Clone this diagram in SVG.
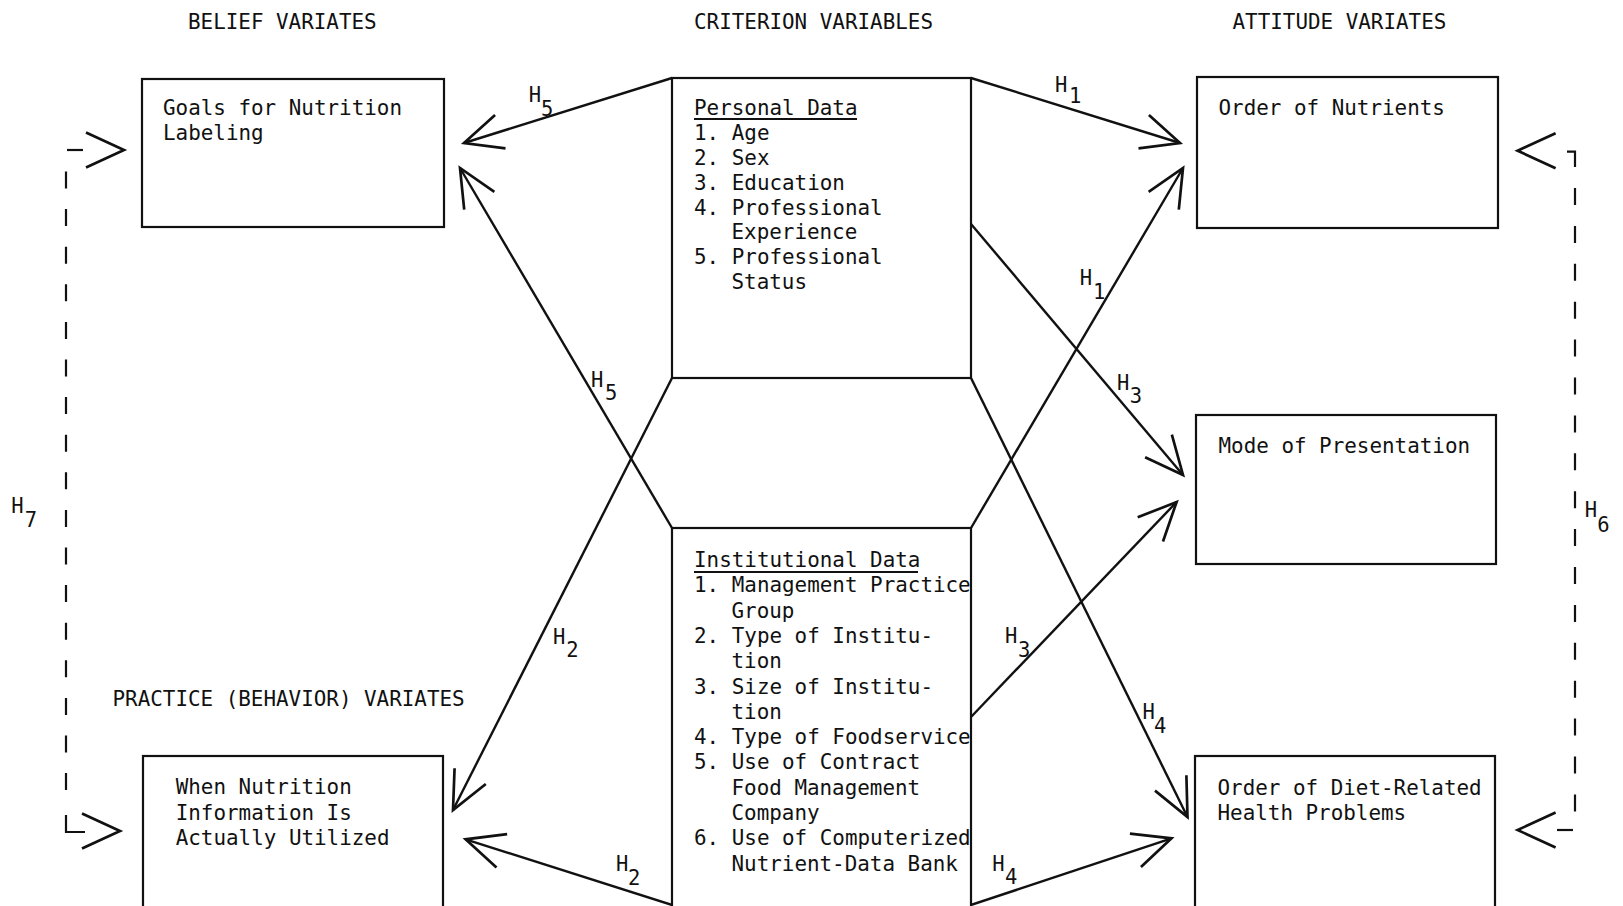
<svg xmlns="http://www.w3.org/2000/svg" width="1623" height="906" viewBox="0 0 1623 906">
  <defs>
    <style>
      .t { font-family: "DejaVu Sans Mono", "Liberation Mono", monospace; font-size: 20.9px; fill: #111; }
      .h { font-family: "DejaVu Sans Mono", "Liberation Mono", monospace; font-size: 20.5px; fill: #111; }
      .box { fill: none; stroke: #111; stroke-width: 2.2; }
      .ul { stroke: #111; stroke-width: 1.8; }
      .ln { fill: none; stroke: #111; stroke-width: 2.4; marker-end: url(#arrow); }
      .tip { fill: none; stroke: #111; stroke-width: 2; marker-end: url(#arrow); }
      .dash { fill: none; stroke: #111; stroke-width: 2.2; }
    </style>
    <marker id="arrow" markerUnits="userSpaceOnUse" markerWidth="50" markerHeight="44" refX="0" refY="0" orient="auto" overflow="visible">
      <path d="M -38,-17.5 L 0,0 L -38,17.5" fill="none" stroke="#111" stroke-width="2.7"/>
    </marker>
  </defs>
  <rect width="1623" height="906" fill="#ffffff"/>

  <g id="headers">
    <text class="t" x="188" y="28.5">BELIEF VARIATES</text>
    <text class="t" x="694" y="28.5">CRITERION VARIABLES</text>
    <text class="t" x="1232.5" y="28.5">ATTITUDE VARIATES</text>
    <text class="t" x="112.5" y="706">PRACTICE (BEHAVIOR) VARIATES</text>
  </g>

  <g id="goals">
    <rect class="box" x="142" y="79" width="302" height="148"/>
    <text class="t" x="163" y="115">Goals for Nutrition</text>
    <text class="t" x="163" y="139.8">Labeling</text>
  </g>

  <g id="personal">
    <rect class="box" x="672" y="78" width="299" height="300"/>
    <text class="t" x="694" y="115">Personal Data</text>
    <line class="ul" x1="694" y1="119" x2="857" y2="119"/>
    <text class="t" x="694" y="140">1. Age</text>
    <text class="t" x="694" y="165">2. Sex</text>
    <text class="t" x="694" y="190">3. Education</text>
    <text class="t" x="694" y="214.5">4. Professional</text>
    <text class="t" x="731.5" y="239.3">Experience</text>
    <text class="t" x="694" y="264">5. Professional</text>
    <text class="t" x="731.5" y="289">Status</text>
  </g>

  <g id="institutional">
    <rect class="box" x="672" y="528" width="299" height="400"/>
    <text class="t" x="694" y="567">Institutional Data</text>
    <line class="ul" x1="694" y1="572" x2="918" y2="572"/>
    <text class="t" x="694" y="592.3">1. Management Practice</text>
    <text class="t" x="731.5" y="617.6">Group</text>
    <text class="t" x="694" y="642.9">2. Type of Institu-</text>
    <text class="t" x="731.5" y="668.2">tion</text>
    <text class="t" x="694" y="693.5">3. Size of Institu-</text>
    <text class="t" x="731.5" y="718.8">tion</text>
    <text class="t" x="694" y="744.1">4. Type of Foodservice</text>
    <text class="t" x="694" y="769.4">5. Use of Contract</text>
    <text class="t" x="731.5" y="794.7">Food Management</text>
    <text class="t" x="731.5" y="820">Company</text>
    <text class="t" x="694" y="845.3">6. Use of Computerized</text>
    <text class="t" x="731.5" y="870.6">Nutrient-Data Bank</text>
  </g>

  <g id="nutrients">
    <rect class="box" x="1197" y="77" width="301" height="151"/>
    <text class="t" x="1218.5" y="115">Order of Nutrients</text>
  </g>

  <g id="mode">
    <rect class="box" x="1196" y="415" width="300" height="149"/>
    <text class="t" x="1218.5" y="452.7">Mode of Presentation</text>
  </g>

  <g id="diet">
    <rect class="box" x="1195" y="756" width="300" height="170"/>
    <text class="t" x="1217.5" y="795">Order of Diet-Related</text>
    <text class="t" x="1217.5" y="820">Health Problems</text>
  </g>

  <g id="when">
    <rect class="box" x="143" y="756" width="300" height="170"/>
    <text class="t" x="175.7" y="794.3">When Nutrition</text>
    <text class="t" x="175.7" y="820">Information Is</text>
    <text class="t" x="175.7" y="845">Actually Utilized</text>
  </g>

  <g id="connectors">
    <path class="ln" d="M 672,78 L 464,143"/>
    <text class="h" x="528.8" y="102.3">H<tspan x="541" y="115.7">5</tspan></text>

    <path class="ln" d="M 971,78 L 1180,143"/>
    <text class="h" x="1055" y="91.7">H<tspan x="1069" y="103">1</tspan></text>

    <path class="ln" d="M 971,224 L 1183,475"/>
    <text class="h" x="1117" y="390">H<tspan x="1129.8" y="403.3">3</tspan></text>

    <path class="ln" d="M 971,378 L 1187.5,817"/>
    <text class="h" x="1142.6" y="719.3">H<tspan x="1154" y="732.5">4</tspan></text>

    <path class="ln" d="M 971,528 L 1183,168"/>
    <text class="h" x="1079.8" y="285">H<tspan x="1093" y="299">1</tspan></text>

    <path class="ln" d="M 971,717 L 1176.6,502"/>
    <text class="h" x="1005" y="643.3">H<tspan x="1018" y="656.7">3</tspan></text>

    <path class="ln" d="M 971,905 L 1171.5,838.3"/>
    <text class="h" x="992.3" y="870.7">H<tspan x="1005" y="884">4</tspan></text>

    <path class="ln" d="M 672,905 L 465.6,839.3"/>
    <text class="h" x="616" y="870.7">H<tspan x="628" y="884.5">2</tspan></text>

    <path class="ln" d="M 672,378 L 453,810"/>
    <text class="h" x="553" y="644">H<tspan x="566.3" y="656.7">2</tspan></text>

    <path class="ln" d="M 672,528 L 460,168"/>
    <text class="h" x="591" y="386.7">H<tspan x="605" y="400">5</tspan></text>

    <g id="h7">
      <path class="dash" d="M 83,150 H 67"/>
      <path class="dash" d="M 66,171.5 V 791" stroke-dasharray="17 20.6"/>
      <path class="dash" d="M 66,815 V 832 H 85"/>
      <path class="tip" d="M 121,150 L 124,150"/>
      <path class="tip" d="M 117,831 L 120,831"/>
      <text class="h" x="11.3" y="513.3">H<tspan x="24.8" y="527">7</tspan></text>
    </g>

    <g id="h6">
      <path class="dash" d="M 1567,151.7 H 1575 V 167"/>
      <path class="dash" d="M 1575,188 V 812" stroke-dasharray="17 20.9"/>
      <path class="dash" d="M 1557,830 H 1573"/>
      <path class="tip" d="M 1520.6,150.7 L 1517.6,150.7"/>
      <path class="tip" d="M 1520.6,830 L 1517.6,830"/>
      <text class="h" x="1584.8" y="517.3">H<tspan x="1597.3" y="531.7">6</tspan></text>
    </g>
  </g>
</svg>
